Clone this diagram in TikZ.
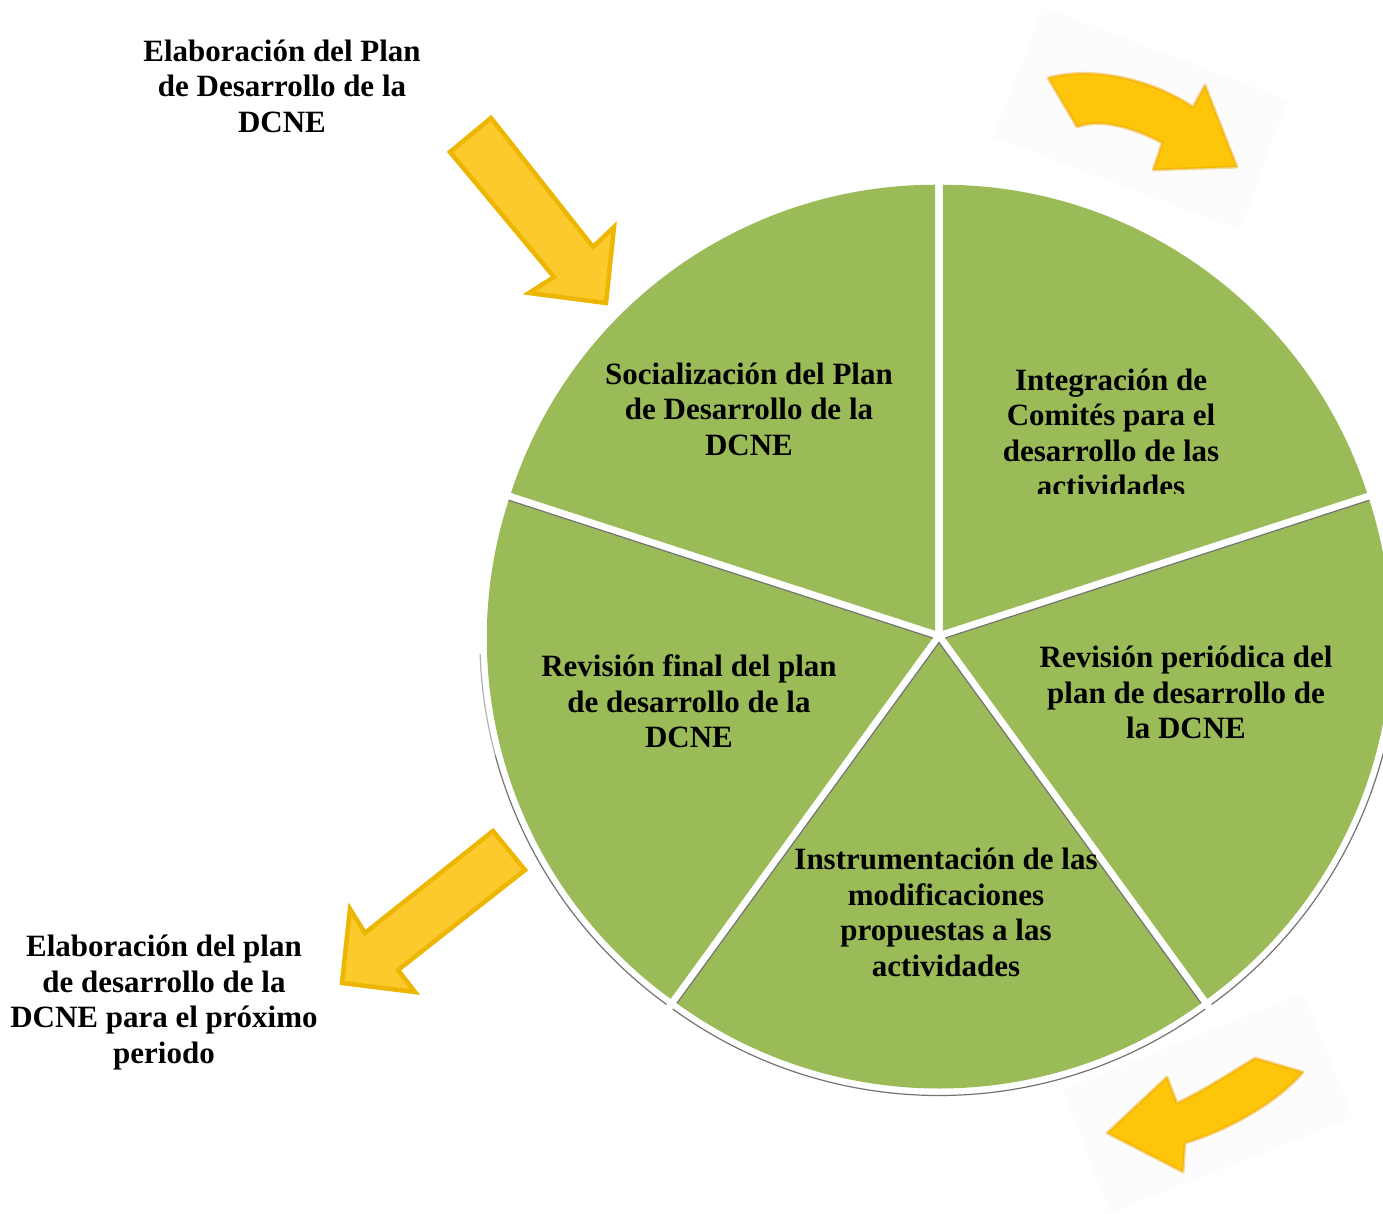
\documentclass[tikz,border=0pt]{standalone}
\usepackage{fontspec}
\setmainfont{Liberation Serif}
\usetikzlibrary{calc}
\definecolor{pie}{HTML}{9BBB59}
\definecolor{arrfill}{HTML}{FDCA2E}
\definecolor{arredge}{HTML}{EDB600}
\definecolor{blurfill}{HTML}{FEC60A}
\definecolor{bluredge}{HTML}{E9A000}
\begin{document}
\begin{tikzpicture}[x=1pt,y=-1pt,
  slice/.style={fill=pie},
  shadowline/.style={draw=black!55, line width=1.2pt},
  lbl/.style={font=\bfseries\fontsize{31}{35.5}\selectfont, align=center, inner sep=0pt},
  bigarrow/.style={fill=arrfill, draw=arredge, line width=4.5pt, line join=miter},
  softarrow/.style={fill=blurfill, draw=bluredge, draw opacity=0.4, line width=3pt, line join=round},
  softback/.style={fill=black!1, draw=none}]
\useasboundingbox (0,0) rectangle (1383,1214);
\clip (0,0) rectangle (1383,1214);
\coordinate (C) at (939,636);
% Integracion (18..90)
\begin{scope}[shift={(C)}, shift={(-54:6.5)}]
  \fill[slice] (0,0) -- (-18:446) arc[start angle=-18, end angle=-90, radius=446] -- cycle;
\end{scope}
% Socializacion (90..162)
\begin{scope}[shift={(C)}, shift={(-126:6.5)}]
  \fill[slice] (0,0) -- (-90:446) arc[start angle=-90, end angle=-162, radius=446] -- cycle;
\end{scope}
% Revision final (162..234)
\begin{scope}[shift={(C)}, shift={(-198:6.5)}]
  \fill[slice] (0,0) -- (-162:446) arc[start angle=-162, end angle=-234, radius=446] -- cycle;
  \draw[shadowline] (-162:446) -- (0,0);
  \draw[shadowline, draw=black!30] (-182:453) arc[start angle=-182, end angle=-195, radius=453];
  \draw[shadowline] (-195:453) arc[start angle=-195, end angle=-234, radius=453];
\end{scope}
% Instrumentacion (234..306)
\begin{scope}[shift={(C)}, shift={(-270:6.5)}]
  \fill[slice] (0,0) -- (-234:446) arc[start angle=-234, end angle=-306, radius=446] -- cycle;
  \draw[shadowline] (-234:446) -- (0,0) -- (-306:446);
  \draw[shadowline] (-234:453) arc[start angle=-234, end angle=-306, radius=453];
\end{scope}
% Revision periodica (306..378)
\begin{scope}[shift={(C)}, shift={(-342:6.5)}]
  \fill[slice] (0,0) -- (-306:446) arc[start angle=-306, end angle=-378, radius=446] -- cycle;
  \draw[shadowline] (0,0) -- (-18:446);
  \draw[shadowline] (-306:453) arc[start angle=-306, end angle=-350, radius=453];
\end{scope}
% yellow arrows
\draw[bigarrow] (450,152) -- (491,118) -- (593,247) -- (614,227) -- (606,303) -- (529,293) -- (554,277) -- cycle;
\draw[bigarrow] (493,831) -- (525,870) -- (398,970) -- (415,992) -- (342,983) -- (350,909) -- (365,933) -- cycle;
% soft curved arrows
\fill[softback] (1043,7) -- (1288,100) -- (1240,230) -- (993,137) -- cycle;
\draw[softarrow] (1048,78) .. controls (1090,66) and (1150,78) .. (1193,107) -- (1205,85) -- (1237,167) -- (1153,170) -- (1162,143) .. controls (1135,128) and (1100,118) .. (1077,127) -- cycle;
\fill[softback] (1063,1090) -- (1303,993) -- (1353,1117) -- (1110,1213) -- cycle;
\draw[softarrow] (1107,1133) -- (1167,1077) -- (1177,1103) .. controls (1205,1090) and (1235,1070) .. (1255,1058) -- (1303,1072) .. controls (1280,1100) and (1230,1130) .. (1185,1143) -- (1183,1172) -- cycle;
% labels
\node[lbl] (elab) at (282,86) {Elaboración del Plan\\de Desarrollo de la\\DCNE};
\node[lbl] (soc) at (749,409) {Socialización del Plan\\de Desarrollo de la\\DCNE};
\begin{scope}
  \clip (940,330) rectangle (1330,493);
  \node[lbl] (integ) at (1111,433) {Integración de\\Comités para el\\desarrollo de las\\actividades};
\end{scope}
\node[lbl] (rper) at (1186,692.5) {Revisión periódica del\\plan de desarrollo de\\la DCNE};
\node[lbl] (rfin) at (689,701.5) {Revisión final del plan\\de desarrollo de la\\DCNE};
\node[lbl] (instr) at (946,912.5) {Instrumentación de las\\modificaciones\\propuestas a las\\actividades};
\node[lbl] (prox) at (164,1002.5) {Elaboración del plan\\de desarrollo de la\\DCNE para el próximo\\periodo};
\end{tikzpicture}
\end{document}
